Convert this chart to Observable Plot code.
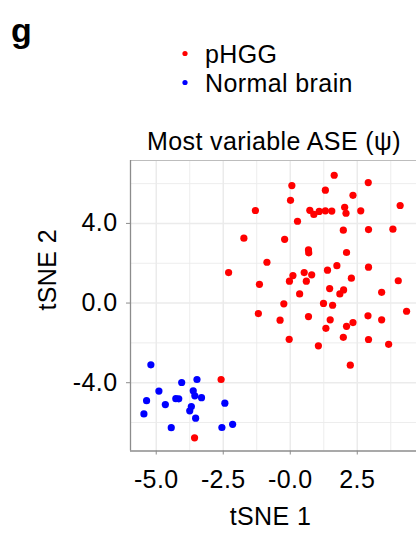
<!DOCTYPE html>
<html>
<head>
<meta charset="utf-8">
<script src="https://cdn.jsdelivr.net/npm/d3@7"></script>
<script src="https://cdn.jsdelivr.net/npm/@observablehq/plot@0.6"></script>
<style>
  html, body { margin: 0; padding: 0; background: #fff; }
  #fig { position: relative; width: 417px; height: 535px; overflow: hidden; font-family: "Liberation Sans", Arial, sans-serif; }
  #fig svg { position: absolute; left: 0; overflow: visible; }
  #fig text { letter-spacing: 0.4px; }
</style>
</head>
<body>
<div id="fig"></div>
<script>
// Panel label, legend and title
const panelLabel = "g";
const chartTitle = "Most variable ASE (\u03c8)";
const groups = ["pHGG", "Normal brain"];
const groupColors = ["#FF0000", "#0000FF"];
const xLabel = "tSNE 1";
const yLabel = "tSNE 2";

// Axis ticks and their printed labels
const xTicks = [-5, -2.5, 0, 2.5];
const xTickLabels = ["-5.0", "-2.5", "-0.0", "2.5"];
const yTicks = [4, 0, -4];
const yTickLabels = ["4.0", "0.0", "-4.0"];
const xMinor = [-3.75, -1.25, 1.25, 3.75];
const yMinor = [6, 2, -2, -6];
const xDomain = [-5.96, 4.71];
const yDomain = [-7.43, 7.16];

// tSNE coordinates, pHGG samples
const phggX = [-1.30, -1.73, -0.87, -2.30, -1.15, -1.19, -0.38, -2.58, -3.57,
  1.64, 0.06, 2.91, 1.31, 2.34, 0.01, 4.10,
  0.73, 0.88, 1.08, 1.31, 1.55, 2.03, 2.08, 2.63, 0.27,
  1.98, 2.92, 3.83, -0.21, 0.68, 0.69, 2.10,
  1.74, 1.39, 2.92, 0.52, 0.10, 0.80, -0.03, 0.60, 2.28, 4.03,
  1.47, 1.99, 1.85, 0.35, 3.41, -0.24, 1.24, 1.58, 4.34,
  0.68, 1.49, 1.33, 2.10, 2.34, 2.90, 3.41, -0.04, 1.05, 1.98, 2.92, 3.67, 2.24];
const phggY = [4.65, 3.26, 2.05, 1.53, 0.94, -0.53, -0.86, -3.84, -6.77,
  6.42, 5.90, 6.05, 5.67, 5.41, 5.16, 4.90,
  4.66, 4.45, 4.60, 4.63, 4.62, 4.81, 4.51, 4.63, 4.11,
  3.66, 3.69, 3.71, 3.20, 2.67, 2.52, 2.54,
  1.88, 1.65, 1.80, 1.53, 1.38, 1.42, 1.10, 1.10, 1.25, 1.12,
  0.73, 0.66, 0.46, 0.46, 0.54, -0.04, -0.02, -0.11, -0.41,
  -0.68, -0.84, -1.27, -1.17, -0.98, -0.64, -0.84, -1.82, -2.15, -1.72, -1.83, -2.07, -3.12];

// tSNE coordinates, normal brain samples
const normalX = [-5.20, -4.05, -3.48, -4.90, -3.62, -3.56, -3.31, -5.36, -4.27, -4.16,
  -4.66, -2.44, -3.69, -3.75, -5.46, -3.53, -4.44, -2.55, -2.15];
const normalY = [-3.10, -3.99, -3.84, -4.42, -4.41, -4.66, -4.75, -4.90, -4.80, -4.81,
  -5.10, -5.03, -5.20, -5.41, -5.57, -5.78, -6.26, -6.25, -6.09];

const samples = [
  ...phggX.map((x, i) => ({x, y: phggY[i], group: groups[0]})),
  ...normalX.map((x, i) => ({x, y: normalY[i], group: groups[1]}))
];

const fig = document.getElementById("fig");

// Header: panel letter, legend, title
const head = d3.select(fig).append("svg")
  .attr("width", 417).attr("height", 160).style("top", "0px");
head.append("text").text(panelLabel)
  .attr("x", 11).attr("y", 42)
  .attr("font-size", 34).attr("font-weight", "bold").style("letter-spacing", "0px");
groups.forEach((g, i) => {
  head.append("circle").attr("cx", 185).attr("cy", 53.5 + i * 29).attr("r", 2.6).attr("fill", groupColors[i]);
  head.append("text").text(g).attr("x", 205).attr("y", 62.5 + i * 29).attr("font-size", 25);
});
head.append("text").text(chartTitle)
  .attr("x", 274).attr("y", 150).attr("text-anchor", "middle").attr("font-size", 25);

// Scatter panel
const chart = Plot.plot({
  width: 417,
  height: 385,
  marginTop: 10,
  marginBottom: 84.5,
  marginLeft: 130,
  marginRight: 1,
  style: {fontFamily: "Liberation Sans, Arial, sans-serif", fontSize: "25px", background: "transparent"},
  x: {domain: xDomain, axis: null},
  y: {domain: yDomain, axis: null},
  color: {domain: groups, range: groupColors},
  marks: [
    Plot.gridX(xMinor, {stroke: "#ebebeb", strokeOpacity: 1, strokeWidth: 0.9}),
    Plot.gridY(yMinor, {stroke: "#ebebeb", strokeOpacity: 1, strokeWidth: 0.9}),
    Plot.gridX(xTicks, {stroke: "#ebebeb", strokeOpacity: 1, strokeWidth: 1.5}),
    Plot.gridY(yTicks, {stroke: "#ebebeb", strokeOpacity: 1, strokeWidth: 1.5}),
    Plot.ruleY([yDomain[1]], {stroke: "#bdbdbd", strokeWidth: 1.2}),
    Plot.ruleX([xDomain[0]], {stroke: "#8c8c8c", strokeWidth: 1.3}),
    Plot.ruleY([yDomain[0]], {stroke: "#8c8c8c", strokeWidth: 1.3}),
    Plot.axisX(xTicks, {
      tickFormat: (d) => xTickLabels[xTicks.indexOf(d)],
      tickSize: 4, tickPadding: 15.5, stroke: "#8c8c8c", color: "black", label: null, fontSize: 25
    }),
    Plot.axisY(yTicks, {
      tickFormat: (d) => yTickLabels[yTicks.indexOf(d)],
      tickSize: 4, tickPadding: 9, stroke: "#8c8c8c", color: "black", label: null, fontSize: 25
    }),
    Plot.dot(samples, {x: "x", y: "y", fill: "group", r: 3.6, stroke: "none"}),
    Plot.text([xLabel], {frameAnchor: "bottom", dx: -3, dy: 73.5, fontSize: 25, fill: "black"}),
    Plot.text([yLabel], {frameAnchor: "left", rotate: -90, dx: -82.5, dy: 4.8, fontSize: 25, fill: "black"})
  ]
});
chart.style.top = "150px";
fig.appendChild(chart);
</script>
</body>
</html>
